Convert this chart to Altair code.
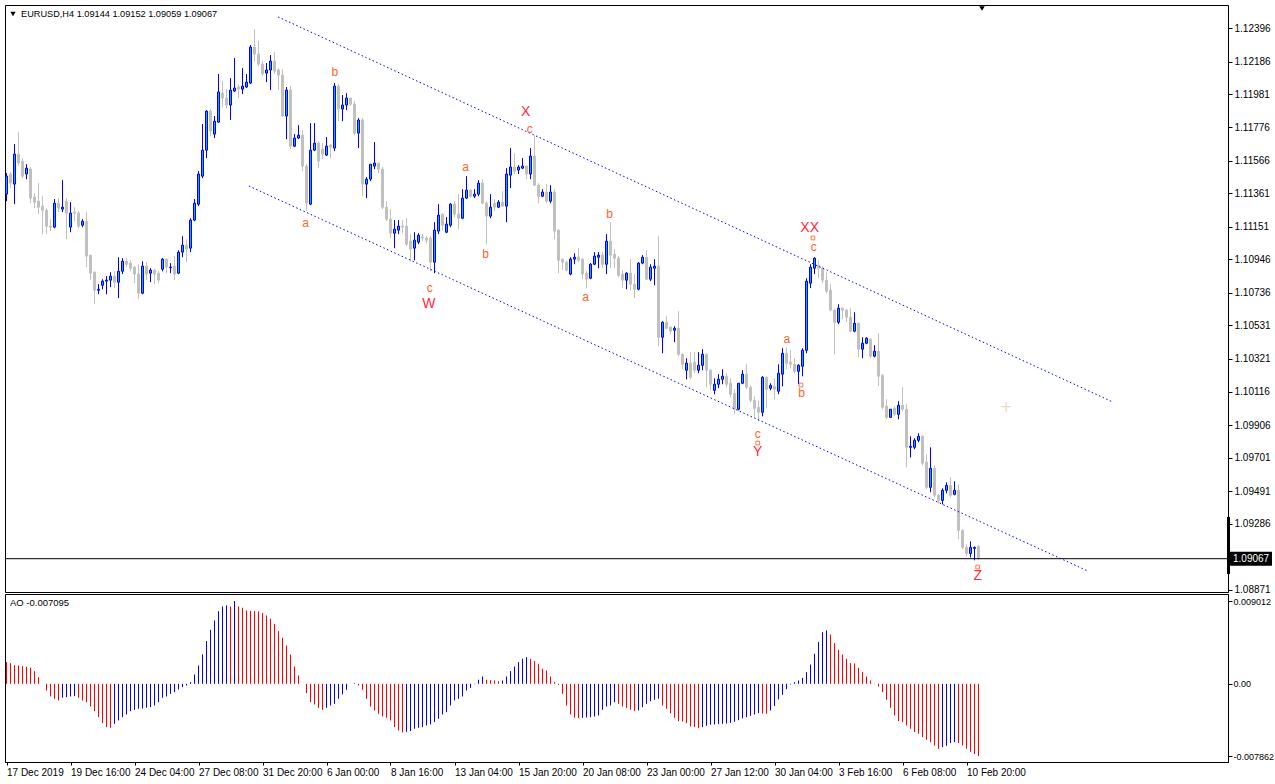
import altair as alt
import pandas as pd

# ---------------- data (prices in 1e-5 units) ----------------
bar_open = [111355,111481,111418,111606,111562,111481,111512,111336,111311,111280,
            111254,111154,111148,111298,111261,111311,111148,111242,111236,111160,
            111185,110972,110865,110752,110783,110809,110815,110840,110802,110871,
            110934,110922,110897,110853,110733,110903,110859,110878,110859,110884,
            110947,110894,110903,110859,110991,111035,111016,111192,111292,111468,
            111631,111876,111732,111807,111989,111958,111914,112002,112027,112014,
            112027,112052,112278,112234,112171,112115,112134,112190,112134,112102,
            111845,112008,111656,111707,111725,111531,111292,111631,111675,111638,
            111600,111663,111644,112033,111889,111914,111958,111920,111738,111820,
            111418,111449,111531,111550,111512,111273,111198,111110,111129,111154,
            111154,111060,111016,111054,111085,111079,111079,110928,111123,111229,
            111116,111160,111292,111229,111204,111330,111380,111342,111355,111424,
            111298,111217,111298,111273,111305,111280,111474,111525,111506,111518,
            111531,111481,111594,111411,111342,111368,111311,111368,111129,110947,
            110928,110853,110947,110959,110947,110859,110827,110915,110959,110972,
            110915,111060,110978,110953,110853,110815,110859,110790,110758,110922,
            110959,110821,110890,110903,110457,110551,110520,110501,110513,110350,
            110250,110294,110300,110250,110281,110350,110250,110124,110162,110193,
            110212,110168,110105,110005,110168,110225,110143,110061,110017,109986,
            110206,110137,110149,110118,110225,110356,110300,110287,110243,110275,
            110375,110796,110890,110909,110890,110815,110752,110627,110551,110639,
            110627,110583,110495,110545,110382,110419,110444,110338,110369,110218,
            110024,109954,110011,109973,110030,110005,109766,109766,109810,109835,
            109672,109515,109634,109465,109433,109496,109527,109471,109496,109245,
            109138,109100,109132,109144]
bar_high = [111487,111493,111669,111744,111581,111543,111525,111361,111424,111342,
            111267,111198,111324,111330,111443,111330,111305,111273,111248,111198,
            111242,110972,110871,110790,110821,110840,110865,110871,110959,110953,
            110953,110940,110903,110915,110934,110928,110890,110884,110871,110953,
            110953,110922,110966,111003,111091,111072,111204,111324,111499,111795,
            111882,111889,111845,112109,112065,112014,112083,112209,112046,112146,
            112109,112291,112391,112316,112190,112178,112228,112247,112146,112140,
            112027,112033,111732,111788,111757,111543,111801,111801,111688,111675,
            111713,111669,112052,112046,111977,111989,111958,111939,111832,111832,
            111462,111543,111682,111550,111525,111311,111261,111192,111192,111192,
            111204,111104,111116,111110,111104,111091,111091,111179,111292,111236,
            111211,111298,111311,111355,111386,111468,111386,111386,111443,111449,
            111311,111355,111324,111317,111374,111518,111644,111612,111537,111581,
            111537,111644,111725,111424,111386,111418,111411,111386,111135,110947,
            110940,110959,110984,111016,110953,110871,110922,110991,110991,110991,
            111104,111179,111010,110966,110878,110865,110947,110853,110928,110972,
            111003,110915,110947,111091,110557,110589,110526,110526,110620,110356,
            110325,110363,110363,110363,110382,110356,110256,110199,110225,110256,
            110231,110199,110130,110168,110250,110287,110155,110086,110061,110212,
            110212,110168,110199,110287,110388,110394,110375,110325,110287,110388,
            110827,110915,110959,110940,110903,110865,110790,110633,110664,110639,
            110633,110639,110614,110545,110457,110457,110451,110407,110482,110225,
            110068,110005,110024,110055,110143,110036,109835,109823,109854,109841,
            109722,109766,109653,109471,109509,109546,109578,109553,109534,109251,
            109157,109176,109144,109152]
bar_low = [111311,111393,111292,111531,111455,111449,111298,111267,111229,111104,
           111104,111123,111141,111242,111242,111072,111116,111185,111141,111148,
           110897,110815,110664,110727,110758,110727,110771,110765,110702,110853,
           110897,110871,110796,110696,110727,110815,110802,110790,110796,110871,
           110859,110859,110815,110853,110959,110928,110991,111185,111280,111455,
           111581,111719,111707,111801,111901,111895,111820,111996,111958,111983,
           112021,112046,112190,112159,112096,112058,112008,112109,112008,111839,
           111700,111638,111650,111700,111499,111248,111286,111625,111518,111575,
           111594,111581,111625,111813,111813,111882,111908,111725,111644,111342,
           111330,111437,111512,111487,111261,111185,111079,111016,111104,111110,
           111028,110934,110940,111041,111060,111047,110871,110859,111104,111129,
           111110,111148,111211,111135,111198,111324,111330,111330,111342,111292,
           111041,111204,111248,111267,111273,111179,111393,111481,111481,111512,
           111449,111449,111405,111298,111336,111298,111298,111072,110859,110878,
           110871,110846,110915,110928,110821,110765,110821,110909,110890,110890,
           110853,110890,110890,110834,110765,110758,110752,110702,110752,110915,
           110815,110809,110783,110400,110356,110507,110476,110426,110338,110256,
           110193,110193,110231,110231,110250,110143,110124,110099,110137,110162,
           110143,110080,109973,109998,110162,110130,110049,109954,109929,109961,
           110011,110124,110068,110099,110149,110256,110262,110231,110162,110212,
           110356,110765,110853,110827,110796,110733,110620,110350,110539,110570,
           110551,110488,110488,110331,110325,110413,110325,110331,110149,110005,
           109942,109954,109961,109942,109992,109641,109703,109754,109798,109653,
           109502,109484,109452,109414,109408,109477,109452,109465,109188,109126,
           109082,109075,109057,109059]
bar_close = [111468,111424,111606,111550,111468,111518,111330,111305,111273,111254,
             111154,111148,111298,111267,111273,111236,111236,111236,111154,111185,
             110966,110859,110752,110758,110809,110815,110840,110802,110871,110934,
             110915,110890,110853,110733,110903,110853,110878,110853,110815,110947,
             110897,110897,110853,110991,111035,111010,111192,111298,111481,111631,
             111876,111751,111813,111996,111958,111914,112008,112021,112014,112033,
             112058,112278,112234,112171,112109,112134,112190,112127,112102,111845,
             112008,111656,111707,111725,111531,111298,111631,111675,111562,111606,
             111656,111650,112033,111889,111914,111958,111920,111738,111820,111418,
             111449,111543,111550,111512,111273,111198,111110,111135,111154,111148,
             111041,111010,111066,111097,111079,111066,110928,111129,111223,111160,
             111167,111292,111229,111204,111330,111380,111342,111355,111424,111298,
             111217,111273,111273,111305,111280,111481,111525,111499,111525,111531,
             111481,111594,111411,111342,111368,111311,111368,111123,110940,110928,
             110878,110947,110959,110940,110853,110821,110915,110966,110972,110915,
             111060,110972,110953,110846,110815,110859,110790,110758,110922,110959,
             110821,110897,110903,110457,110551,110513,110495,110513,110350,110287,
             110294,110206,110250,110281,110350,110250,110162,110162,110193,110212,
             110162,110099,110005,110168,110225,110143,110061,110011,109986,110206,
             110130,110155,110130,110231,110356,110294,110287,110243,110281,110375,
             110809,110897,110953,110890,110815,110746,110627,110551,110639,110627,
             110583,110495,110545,110382,110419,110451,110338,110369,110212,110017,
             109954,110005,109973,110030,110005,109766,109772,109810,109835,109666,
             109515,109634,109465,109433,109496,109527,109465,109496,109245,109138,
             109100,109138,109138,109067]

# Awesome Oscillator values (1e-5 units)
ao_values = [236,225,203,200,192,185,174,138,73,0,
             -73,-138,-163,-181,-152,-145,-138,-134,-152,-181,
             -200,-247,-298,-363,-428,-472,-479,-436,-399,-363,
             -334,-298,-283,-272,-269,-261,-254,-236,-200,-152,
             -138,-109,-91,-62,-36,-18,18,102,200,319,
             465,588,690,791,842,853,842,901,842,828,
             799,795,791,788,770,744,708,653,574,501,
             417,319,189,91,0,-102,-200,-225,-261,-283,
             -261,-236,-218,-163,-116,-65,0,7,-18,-65,
             -163,-247,-290,-327,-356,-370,-399,-472,-508,-530,
             -523,-515,-490,-479,-472,-454,-443,-417,-381,-334,
             -309,-236,-181,-163,-138,-73,-44,-4,44,80,
             44,40,36,29,36,80,138,189,236,272,
             290,272,247,218,163,145,80,18,-11,-109,
             -236,-334,-370,-374,-370,-367,-363,-356,-345,-283,
             -247,-236,-200,-218,-247,-261,-283,-298,-290,-254,
             -218,-189,-174,-163,-236,-272,-319,-370,-407,-410,
             -428,-465,-472,-483,-472,-457,-446,-443,-439,-436,
             -432,-425,-414,-396,-377,-363,-348,-334,-319,-323,
             -327,-290,-243,-171,-120,-58,-7,18,36,65,
             127,210,327,454,562,581,537,443,370,319,
             272,225,221,174,127,80,36,-4,-29,-91,
             -174,-261,-345,-407,-417,-454,-490,-526,-544,-581,
             -610,-635,-671,-708,-690,-675,-646,-635,-646,-671,
             -708,-740,-765,-786]

tick_labels = ["17 Dec 2019", "19 Dec 16:00", "24 Dec 04:00", "27 Dec 08:00",
               "31 Dec 20:00", "6 Jan 00:00", "8 Jan 16:00", "13 Jan 04:00",
               "15 Jan 20:00", "20 Jan 08:00", "23 Jan 00:00", "27 Jan 12:00",
               "30 Jan 04:00", "3 Feb 16:00", "6 Feb 08:00", "10 Feb 20:00"]
tick_bars = [0, 16, 32, 48, 64, 80, 96, 112, 128, 144, 160, 176, 192, 208, 224, 240]

price_ticks = [1.12396, 1.12186, 1.11981, 1.11776, 1.11566, 1.11361, 1.11151,
               1.10946, 1.10736, 1.10531, 1.10321, 1.10116, 1.09906, 1.09701,
               1.09491, 1.09286, 1.08871]
ao_ticks = [0.009012, 0.0, -0.007862]

# channel trend lines (bar index, price)
channel_line = ["upper", "upper", "lower", "lower"]
channel_bar = [67.9, 276.6, 60.6, 270.3]
channel_price = [1.12467, 1.10050, 1.11406, 1.08990]

# wave labels
wave_text = ["a", "b", "c", "W", "a", "b", "X", "c", "a", "b", "XX", "c", "a", "b", "c", "Y", "Z"]
wave_bar = [74.8, 82.1, 105.8, 105.6, 114.8, 119.8, 129.8, 130.8, 144.8, 150.8,
            200.8, 201.8, 195.1, 198.8, 187.8, 187.8, 242.8]
wave_price = [1.11174, 1.12121, 1.10766, 1.10665, 1.11525, 1.10979, 1.11870, 1.11764,
              1.10709, 1.11230, 1.11142, 1.11023, 1.10446, 1.10107, 1.09850, 1.09737, 1.08958]
mark_bar_idx = [201.6, 198.6, 187.8, 242.8]
mark_price = [1.11080, 1.10157, 1.09793, 1.09015]

last_price = 1.09067
spread_zone = [1.08971, 1.09329]
title_text = "EURUSD,H4  1.09144 1.09152 1.09059 1.09067"
ao_text = "AO -0.007095"

# ---------------- chart ----------------
W, H1, H2 = 1223, 587, 168
FONT = "Liberation Sans"
xscale = alt.Scale(domain=[-0.375, 305.375], nice=False, zero=False, padding=0)
yscale = alt.Scale(domain=[1.08858, 1.12542], nice=False, zero=False, padding=0)
ao_scale = alt.Scale(domain=[-0.008513, 0.009776], nice=False, zero=False, padding=0)

yaxis = alt.Axis(orient="right", values=price_ticks, format=".5f", tickSize=4,
                 labelPadding=2, labelOverlap=False, labelFlush=False,
                 labelBaseline="middle", title=None, grid=False)


def Y(field):
    return alt.Y(field, scale=yscale, axis=yaxis, title=None)


def X(field):
    return alt.X(field, scale=xscale, axis=None)


n = len(bar_close)
df = pd.DataFrame({
    "i": list(range(n)),
    "o": [v / 1e5 for v in bar_open],
    "h": [v / 1e5 for v in bar_high],
    "l": [v / 1e5 for v in bar_low],
    "c": [v / 1e5 for v in bar_close],
})

bull = "datum.c > datum.o"
wicks = alt.Chart(df).mark_rule(strokeWidth=1).encode(
    x=X("i:Q"), y=Y("l:Q"), y2="h:Q",
    color=alt.condition(bull, alt.value("#0000FF"), alt.value("#C0C0C0")))
bodies = alt.Chart(df).mark_bar(size=2, strokeWidth=1).encode(
    x=X("i:Q"), y=Y("o:Q"), y2="c:Q",
    fill=alt.condition(bull, alt.value("#1E9BFF"), alt.value("#C0C0C0")),
    stroke=alt.condition(bull, alt.value("#0000FF"), alt.value("#C0C0C0")))

ch_df = pd.DataFrame({"line": channel_line, "i": channel_bar, "p": channel_price})
channel = alt.Chart(ch_df).mark_line(color="#0000FF", strokeWidth=1, strokeDash=[1.5, 2.5]).encode(
    x=X("i:Q"), y=Y("p:Q"), detail="line:N")

lp_df = pd.DataFrame({"p": [last_price], "lo": [last_price - 0.00044], "hi": [last_price + 0.00044]})
price_line = alt.Chart(lp_df).mark_rule(color="black", strokeWidth=1).encode(y=Y("p:Q"))
price_box = alt.Chart(lp_df).mark_rect(color="black").encode(
    x=alt.value(W), x2=alt.value(W + 44), y=Y("lo:Q"), y2="hi:Q")
price_txt = alt.Chart(lp_df).mark_text(align="left", baseline="middle", color="white",
                                       font=FONT, fontSize=10).encode(
    x=alt.value(W + 5), y=Y("p:Q"), text=alt.Text("p:Q", format=".5f"))

sz_df = pd.DataFrame({"lo": [spread_zone[0]], "hi": [spread_zone[1]]})
spread_bar = alt.Chart(sz_df).mark_rect(color="black").encode(
    x=alt.value(W - 1), x2=alt.value(W + 2), y=Y("lo:Q"), y2="hi:Q")

big = {"W", "X", "XX", "Y", "Z"}
wv = pd.DataFrame({"t": wave_text, "i": wave_bar, "p": wave_price})
wv["big"] = [t in big for t in wave_text]
wave_small = alt.Chart(wv[~wv["big"]]).mark_text(
    font=FONT, fontSize=12, color="#FF6428", baseline="middle", align="center").encode(
    x=X("i:Q"), y=Y("p:Q"), text="t:N")
wave_big = alt.Chart(wv[wv["big"]]).mark_text(
    font=FONT, fontSize=14, color="#FF2A3A", baseline="middle", align="center").encode(
    x=X("i:Q"), y=Y("p:Q"), text="t:N")
mk_df = pd.DataFrame({"i": mark_bar_idx, "p": mark_price})
markers = alt.Chart(mk_df).mark_square(filled=False, size=14, color="#FF4500", strokeWidth=1).encode(
    x=X("i:Q"), y=Y("p:Q"))

t_df = pd.DataFrame({"t": [title_text]})
title = alt.Chart(t_df).mark_text(align="left", baseline="middle", font=FONT, fontSize=9.2,
                                  color="black").encode(
    x=alt.value(16), y=alt.value(9), text="t:N")
tri_df = pd.DataFrame({"k": ["left", "shift"], "x": [8, 977], "y": [9, 3.5], "s": [28, 30]})
tris = alt.Chart(tri_df).mark_point(shape="triangle-down", filled=True, color="black", opacity=1).encode(
    x=alt.X("x:Q", scale=None), y=alt.Y("y:Q", scale=None),
    size=alt.Size("s:Q", scale=None))
cross_df = pd.DataFrame({"t": ["+"]})
cross = alt.Chart(cross_df).mark_text(font="DejaVu Sans", fontSize=15, color="#E6DCC3",
                                      align="center", baseline="middle").encode(
    x=alt.value(1001), y=alt.value(402), text="t:N")

main = alt.layer(wicks, bodies, channel, price_line, spread_bar, price_box, price_txt,
                 wave_small, wave_big, markers, title, tris, cross).properties(width=W, height=H1)

# AO panel
ao_df = pd.DataFrame({"i": list(range(len(ao_values))), "ao": [v / 1e5 for v in ao_values]})
ao_df["zero"] = 0.0
ao_df["col"] = ["#FF0000" if k == 0 or ao_values[k] <= ao_values[k - 1] else "#0000FF"
                for k in range(len(ao_values))]

lbl_js = "[" + ",".join("'" + s + "'" for s in tick_labels) + "]"
xaxis = alt.Axis(values=tick_bars, labelExpr=lbl_js + "[datum.value/16]", labelAlign="left",
                 labelFlush=False, labelOverlap=False, tickSize=3, labelPadding=2,
                 grid=False, title=None)
ao_axis = alt.Axis(orient="right", values=ao_ticks, tickSize=4, labelPadding=1,
                   labelOverlap=False, labelFlush=False, labelBaseline="middle",
                   labelFontSize=9, grid=False, title=None,
                   labelExpr="datum.value == 0 ? '0.00' : (datum.value < 0 ? '-' + format(-datum.value, '.6f') : format(datum.value, '.6f'))")

ao_bars = alt.Chart(ao_df).mark_rule(strokeWidth=1).encode(
    x=alt.X("i:Q", scale=xscale, axis=xaxis, title=None),
    y=alt.Y("ao:Q", scale=ao_scale, axis=ao_axis, title=None),
    y2="zero:Q",
    color=alt.Color("col:N", scale=None))
ao_t_df = pd.DataFrame({"t": [ao_text]})
ao_title = alt.Chart(ao_t_df).mark_text(align="left", baseline="middle", font=FONT, fontSize=9.5,
                                        color="black").encode(
    x=alt.value(5), y=alt.value(9), text="t:N")
ao_panel = alt.layer(ao_bars, ao_title).properties(width=W, height=H2)

chart = alt.vconcat(main, ao_panel, spacing=2, bounds="flush").configure_view(
    stroke="black", strokeWidth=1
).configure_axis(
    labelFont=FONT, labelFontSize=10, labelColor="black", domainColor="black",
    tickColor="black", domainWidth=1, tickWidth=1
).properties(
    padding={"left": 4, "top": 4, "right": 0, "bottom": 0}, background="white"
)

chart.save("out.html", embed_options={"renderer": "svg", "actions": False})
